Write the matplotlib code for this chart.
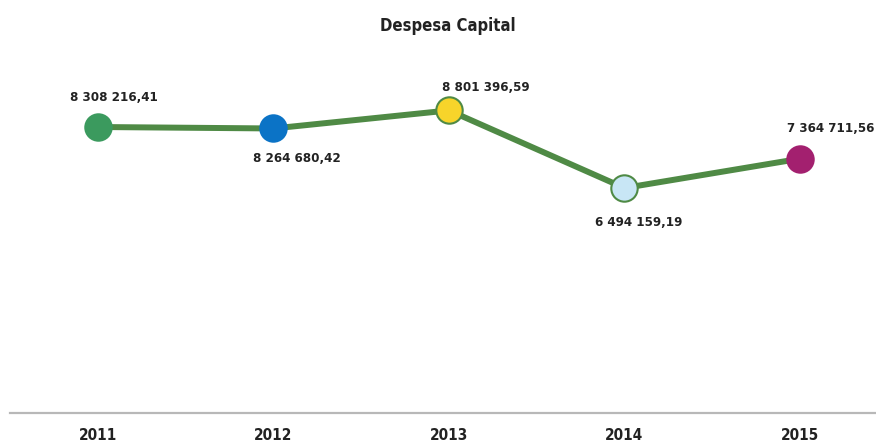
import matplotlib.pyplot as plt

# Despesa de capital por ano
anos = ["2011", "2012", "2013", "2014", "2015"]
valores = [8308216.41, 8264680.42, 8801396.59, 6494159.19, 7364711.56]
rotulos = ["8 308 216,41", "8 264 680,42", "8 801 396,59", "6 494 159,19", "7 364 711,56"]

cores = ["#3b9a5e", "#0b73c6", "#f7d42a", "#c8e6f5", "#a3206f"]
bordas = ["#3b9a5e", "#0b73c6", "#4f8a45", "#4f8a45", "#a3206f"]
# deslocamento dos rótulos (pontos) em relação a cada marcador
desloc = [(11.5, 21), (16.6, -21.6), (26.6, 16.6), (10, -25), (22.3, 21.6)]

fonte = ["DejaVu Sans"]
txt = dict(fontweight="bold", fontstretch="condensed", family=fonte, color="#222222")

fig = plt.figure(figsize=(8.76, 4.44), dpi=100)
ax = fig.add_axes([0, 0.0698, 1, 0.9302])

x = list(range(len(anos)))
ax.plot(x, valores, color="#4f8a45", linewidth=4.3, zorder=2)
for i, v in enumerate(valores):
    ax.plot(i, v, "o", markersize=19, markerfacecolor=cores[i],
            markeredgecolor=bordas[i], markeredgewidth=1.5, zorder=3)
    ax.annotate(rotulos[i], (i, v), xytext=desloc[i], textcoords="offset points",
                ha="center", va="center", fontsize=9.5, **txt)

ax.set_xlim(-0.558, 4.433)
ax.set_ylim(-197000, 12085000)

for s in ["top", "left", "right"]:
    ax.spines[s].set_visible(False)
ax.spines["bottom"].set_color("#b8b8b8")
ax.spines["bottom"].set_linewidth(1.6)
ax.spines["bottom"].set_bounds(-0.5, 4.433)
ax.set_yticks([])
ax.set_xticks(x)
ax.set_xticklabels(anos, fontsize=11, **txt)
ax.tick_params(axis="x", length=0, pad=11)

fig.text(0.511, 0.930, "Despesa Capital", ha="center", va="baseline",
         fontsize=12, **txt)

fig.savefig("out.png", dpi=100)
